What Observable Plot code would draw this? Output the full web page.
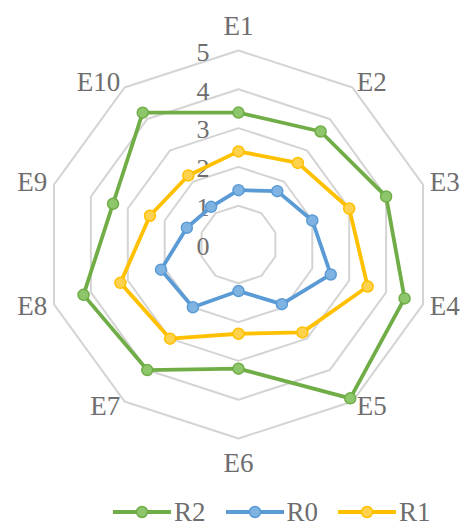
<!DOCTYPE html>
<html>
<head>
<meta charset="utf-8">
<script src="https://cdn.jsdelivr.net/npm/d3@7"></script>
<script src="https://cdn.jsdelivr.net/npm/@observablehq/plot@0.6"></script>
<style>
  html, body { margin: 0; padding: 0; background: #fff; }
  #chart { width: 461px; height: 528px; position: relative; overflow: hidden; }
  .legend { display: flex; align-items: center; height: 34px; margin-top: 5px; padding-left: 113px; line-height: 1;
            font-family: "Liberation Serif", "Times New Roman", serif; font-size: 27px; color: #6e6e6e; }
  .legend .item { display: flex; align-items: center; margin-right: 20px; }
  .legend svg { display: block; margin-right: 3px; }
</style>
</head>
<body>
<div id="chart"></div>
<script>
const categories = ["E1", "E2", "E3", "E4", "E5", "E6", "E7", "E8", "E9", "E10"];
const seriesNames = ["R2", "R0", "R1"];
const R2 = [3.4, 3.6, 4.0, 4.5, 4.9, 3.2, 4.0, 4.2, 3.4, 4.2];
const R0 = [1.4, 1.7, 2.0, 2.5, 1.9, 1.2, 2.0, 2.1, 1.4, 1.2];
const R1 = [2.4, 2.6, 3.0, 3.5, 2.8, 2.3, 3.0, 3.2, 2.4, 2.2];
const tickValues = [0, 1, 2, 3, 4, 5];
const seriesColors = ["#70AD47", "#5B9BD5", "#FFC000"];
const markerFills = ["#8DC66B", "#7FB3E2", "#FFD24D"];

const W = 461, H = 490;
const U = 38.8;          // pixels per unit
const CX = 238, CY = 244; // centre in pixels
const maxV = 5;
const n = categories.length;
const ang = i => (i * 2 * Math.PI) / n;

const seriesValues = [R2, R0, R1];
const pts = [];
seriesNames.forEach((s, si) => {
  seriesValues[si].forEach((v, i) => {
    pts.push({ s, si, cat: categories[i], v, x: v * Math.sin(ang(i)), y: v * Math.cos(ang(i)) });
  });
});

const rings = [];
tickValues.filter(k => k > 0).forEach(k => {
  categories.forEach((c, i) => rings.push({ k, x: k * Math.sin(ang(i)), y: k * Math.cos(ang(i)) }));
});

const labels = categories.map((c, i) => {
  const s = Math.sin(ang(i)), co = Math.cos(ang(i));
  let anchor, x = maxV * s, y = maxV * co;
  if (Math.abs(s) < 0.1) {
    anchor = "middle";
    y += (24.5 * co) / U;
  } else {
    anchor = s > 0 ? "start" : "end";
    x += (7 * s) / U;
    y += (6 * co) / U;
  }
  return { c, x, y, anchor };
});

const font = "Liberation Serif, Times New Roman, serif";
const textColor = "#6e6e6e";

const marks = [
  Plot.line(rings, { x: "x", y: "y", z: "k", curve: "linear-closed", stroke: "#d4d4d4", strokeWidth: 2 }),
  Plot.text(tickValues, { x: 0, y: d => d, text: d => String(d), textAnchor: "end", dx: -29, dy: 2,
    fontSize: 26, fill: textColor, fontFamily: font })
];
seriesNames.forEach((s, si) => {
  const d = pts.filter(p => p.s === s);
  marks.push(Plot.line(d, { x: "x", y: "y", curve: "linear-closed", stroke: seriesColors[si], strokeWidth: 3.8 }));
  marks.push(Plot.dot(d, { x: "x", y: "y", r: 5.5, fill: markerFills[si], stroke: seriesColors[si], strokeWidth: 1.5 }));
});
["start", "middle", "end"].forEach(a => {
  marks.push(Plot.text(labels.filter(l => l.anchor === a), { x: "x", y: "y", text: "c", textAnchor: a,
    fontSize: 27, fill: textColor, fontFamily: font }));
});

const plot = Plot.plot({
  width: W, height: H, margin: 0,
  x: { domain: [-CX / U, (W - CX) / U], axis: null },
  y: { domain: [-(H - CY) / U, CY / U], axis: null },
  style: { background: "#fff", overflow: "visible" },
  marks
});
const chart = document.getElementById("chart");
chart.appendChild(plot);

const legend = document.createElement("div");
legend.className = "legend";
seriesNames.forEach((s, si) => {
  const item = document.createElement("div");
  item.className = "item";
  item.innerHTML = `<svg width="58" height="14"><line x1="0" y1="7" x2="58" y2="7" stroke="${seriesColors[si]}" stroke-width="3.8"/>` +
    `<circle cx="29" cy="7" r="5.5" fill="${markerFills[si]}" stroke="${seriesColors[si]}" stroke-width="1.5"/></svg><span>${s}</span>`;
  legend.appendChild(item);
});
chart.appendChild(legend);
</script>
</body>
</html>
